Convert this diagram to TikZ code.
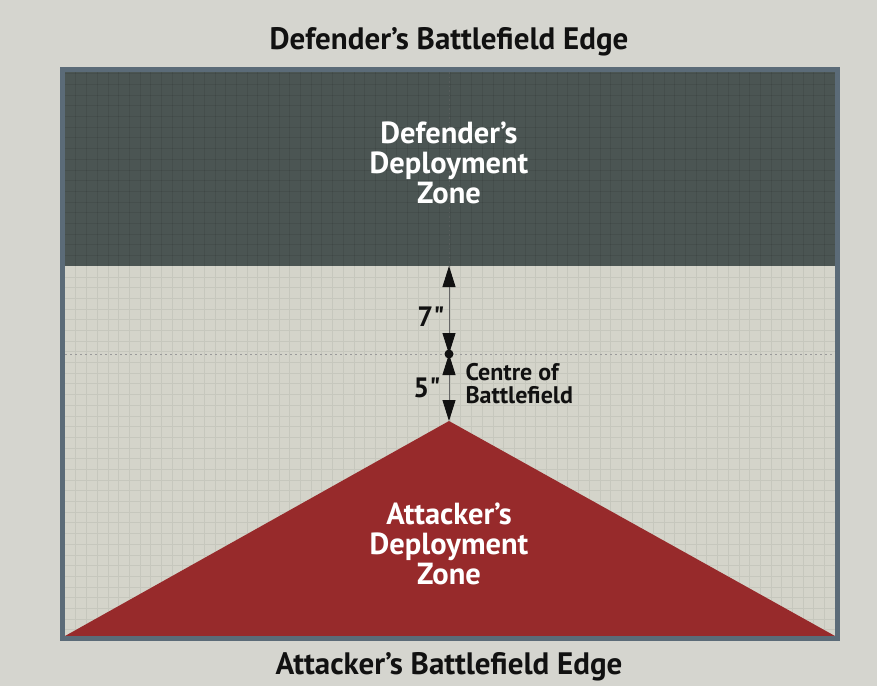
\documentclass[tikz,border=0pt]{standalone}
\usepackage{fontspec}
\setmainfont{PT Sans}[Ligatures=TeXOff]
\usetikzlibrary{arrows.meta}
\definecolor{paper}{HTML}{D5D5CF}
\definecolor{boardbg}{HTML}{D4D4CA}
\definecolor{defzone}{HTML}{4B5553}
\definecolor{attzone}{HTML}{972A2B}
\definecolor{frame}{HTML}{5B6B78}
\definecolor{gridc}{HTML}{C6C7BD}
\definecolor{inkc}{HTML}{111111}
\tikzset{
  edgelabel/.style={font=\bfseries\fontsize{31}{34}\selectfont, text=inkc},
  zonelabel/.style={font=\bfseries\fontsize{30.5}{30}\selectfont, text=white, align=center},
  measure/.style={font=\bfseries\fontsize{28}{30}\selectfont, text=inkc},
  smalllabel/.style={font=\bfseries\fontsize{24}{23}\selectfont, text=inkc, align=left},
  dimline/.style={draw=black!60, line width=0.9pt, {Triangle[width=13pt,length=21pt,color=inkc]}-{Triangle[width=13pt,length=21pt,color=inkc]}},
  gridline/.style={draw=gridc, line width=0.4pt},
  dgridline/.style={draw=black, line width=0.4pt, opacity=0.08},
}
\begin{document}
\begin{tikzpicture}[x=1pt,y=-1pt]
\useasboundingbox (0,0) rectangle (877,686);
\fill[paper] (0,0) rectangle (877,686);
% board
\fill[boardbg] (65,72) rectangle (835,636);
\foreach \i in {1,...,71} {\draw[gridline] ({65+\i*10.694},266) -- ({65+\i*10.694},636);}
\foreach \j in {1,...,34} {\draw[gridline] (65,{266+\j*10.694}) -- (835,{266+\j*10.694});}
\fill[defzone] (65,72) rectangle (835,266);
\foreach \i in {1,...,71} {\draw[dgridline] ({65+\i*10.694},72) -- ({65+\i*10.694},266);}
\foreach \j in {1,...,18} {\draw[dgridline] (65,{266-\j*10.694}) -- (835,{266-\j*10.694});}
% centre line
\draw[black!40, line width=0.8pt, dash pattern=on 2pt off 3pt] (65,354) -- (835,354);
\draw[black!60, line width=0.6pt, dash pattern=on 1.5pt off 3pt, opacity=0.5] (449,72) -- (449,266);
% attacker zone
\coordinate (apex) at (449,421);
\coordinate (bl) at (65,636);
\coordinate (br) at (835,636);
\fill[attzone] (bl) -- (apex) -- (br) -- cycle;
% frame
\draw[frame, line width=5pt] (62.5,69.5) rectangle (837.5,638.5);
% dimension markers
\coordinate (dztop) at (449,266);
\coordinate (ctr) at (449,354);
\coordinate (apx) at (449,421);
\draw[dimline] (dztop) -- (ctr);
\draw[dimline] (ctr) -- (apx);
\fill[inkc] (ctr) circle (4.5);
% labels
\node[edgelabel] (deftitle) at (449,42) {Defender’s Battlefield Edge};
\node[edgelabel] (atttitle) at (449,667) {Attacker’s Battlefield Edge};
\node[zonelabel] (defz) at (449,163) {Defender’s\\Deployment\\Zone};
\node[zonelabel] (attz) at (449,544) {Attacker’s\\Deployment\\Zone};
\node[measure] (seven) at (431,317) {7"};
\node[measure] (five) at (427,388) {5"};
\node[smalllabel, anchor=west] (centre) at (462,384) {Centre of\\Battlefield};
\end{tikzpicture}
\end{document}
